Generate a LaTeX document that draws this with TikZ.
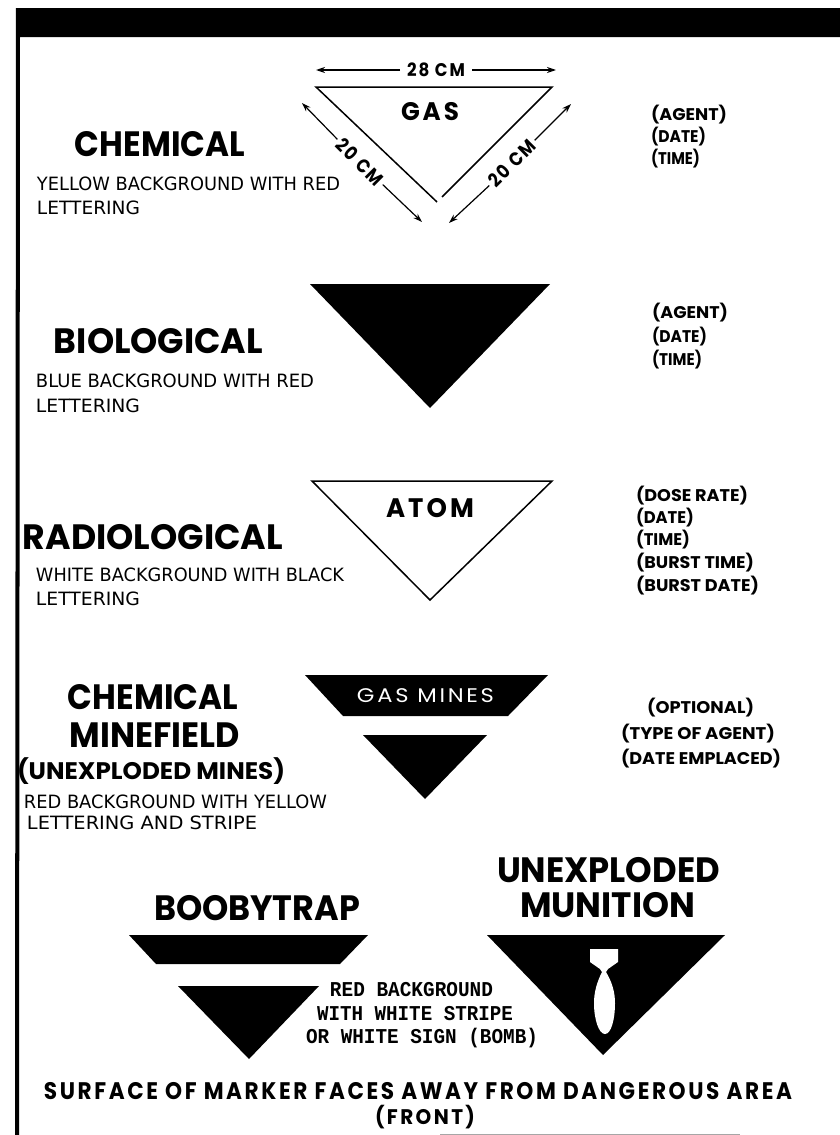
\documentclass[tikz,border=0pt]{standalone}
\usepackage{fontspec}
\usepackage{graphicx}
\usetikzlibrary{arrows.meta}
\newfontfamily\hdfont{Poppins}
\newfontfamily\hdspaced{Poppins}[LetterSpace=12]
\newfontfamily\leroy{DejaVu Sans}
\newfontfamily\narrowmono{Liberation Mono}
\newcommand{\hdb}{\hdfont\bfseries}
\newcommand{\hds}{\hdspaced\bfseries}
\newcommand{\lbl}[8][]{%
  \pgfmathsetmacro{\lblcx}{(#3+#4)/2}%
  \pgfmathsetmacro{\lblw}{#4-#3}%
  \pgfmathsetmacro{\lbly}{#5+#6/2}%
  \pgfmathsetmacro{\lblfs}{#6/0.71}%
  \node[lblstyle,#1] (#2) at (\lblcx,\lbly) {\resizebox{\lblw pt}{\height}{\fontsize{\lblfs pt}{\lblfs pt}\selectfont #7#8}};%
}
\tikzset{
  lblstyle/.style={inner sep=0pt,outer sep=0pt,anchor=base,text=black},
  solidmark/.style={fill=black,draw=none},
  outlinemark/.style={draw=black,line width=1.5pt,fill=none,line join=miter},
  dimarrow/.style={draw=black,line width=1.2pt,-{Stealth[length=9pt,width=6pt]}},
  rotlabel/.style={inner sep=0pt,outer sep=0pt,anchor=center,text=black}
}
\begin{document}
\begin{tikzpicture}[x=1pt,y=-1pt]
\useasboundingbox (0,0) rectangle (840,1135);
\fill[white] (0,0) rectangle (840,1135);
% frame
\fill[black] (16,8) -- (840,8) -- (840,37) -- (20,37) -- (19,1135) -- (15,1135) -- cycle;
\draw[gray!70,line width=1pt] (440,1134) -- (740,1134);
% --- gas
\draw[outlinemark] (437,202) -- (316,87) -- (552,87) -- (442,197);
\lbl{dtop}{407}{465}{70}{13}{\hds}{28 CM}
\coordinate (dtopL) at (316,70);
\coordinate (dtopR) at (556,70);
\draw[dimarrow,shorten <=7pt] (dtop.west |- 0,70) -- (dtopL);
\draw[dimarrow,shorten <=7pt] (dtop.east |- 0,70) -- (dtopR);
\lbl{gas}{401}{459}{111}{18}{\hds}{GAS}
\node[rotlabel,rotate=-45] (dleft) at (360,162) {\resizebox{58pt}{\height}{\fontsize{19pt}{19pt}\selectfont\hds 20 CM}};
\node[rotlabel,rotate=45] (dright) at (512,163) {\resizebox{58pt}{\height}{\fontsize{19pt}{19pt}\selectfont\hds 20 CM}};
\coordinate (dlA) at (302,103);
\coordinate (dlB) at (422,222);
\coordinate (drA) at (571,104);
\coordinate (drB) at (449,223);
\draw[dimarrow,shorten <=3pt] (dleft.west) -- (dlA);
\draw[dimarrow,shorten <=3pt] (dleft.east) -- (dlB);
\draw[dimarrow,shorten <=3pt] (dright.east) -- (drA);
\draw[dimarrow,shorten <=3pt] (dright.west) -- (drB);
\lbl{chem}{75}{245}{144}{25}{\hdb}{CHEMICAL}
\lbl{chemA}{37}{340}{184}{13}{\leroy}{YELLOW BACKGROUND WITH RED}
\lbl{chemB}{37}{140}{208}{13}{\leroy}{LETTERING}
\lbl{a1}{651}{727}{114}{12}{\hdb}{(AGENT)}
\lbl{a2}{651}{706}{136}{12}{\hdb}{(DATE)}
\lbl{a3}{651}{700}{158}{12}{\hdb}{(TIME)}
% --- biological
\fill[solidmark] (310,284) -- (550,284) -- (430,408) -- cycle;
\lbl{bio}{54}{263}{341}{25}{\hdb}{BIOLOGICAL}
\lbl{bioA}{36}{314}{381}{13}{\leroy}{BLUE BACKGROUND WITH RED}
\lbl{bioB}{36}{140}{406}{13}{\leroy}{LETTERING}
\lbl{b1}{652}{728}{312}{12}{\hdb}{(AGENT)}
\lbl{b2}{652}{707}{336}{12}{\hdb}{(DATE)}
\lbl{b3}{652}{702}{359}{12}{\hdb}{(TIME)}
% --- radiological
\draw[outlinemark] (312,481) -- (552,481) -- (430,600) -- cycle;
\lbl{atom}{386}{474}{508}{19}{\hds}{ATOM}
\lbl{rad}{23}{283}{537}{25}{\hdb}{RADIOLOGICAL}
\lbl{radA}{36}{344}{575}{13}{\leroy}{WHITE BACKGROUND WITH BLACK}
\lbl{radB}{36}{140}{599}{13}{\leroy}{LETTERING}
\lbl{c1}{636}{748}{495}{12}{\hdb}{(DOSE RATE)}
\lbl{c2}{636}{694}{517}{12}{\hdb}{(DATE)}
\lbl{c3}{636}{690}{539}{12}{\hdb}{(TIME)}
\lbl{c4}{636}{754}{562}{12}{\hdb}{(BURST TIME)}
\lbl{c5}{636}{759}{585}{12}{\hdb}{(BURST DATE)}
% --- chemical minefield
\fill[solidmark] (305,675) -- (548,675) -- (508,716) -- (343,716) -- cycle;
\fill[solidmark] (363,735) -- (487,735) -- (425,799) -- cycle;
\lbl[text=white]{mines}{357}{494}{695}{14}{\hdspaced}{GAS MINES}
\lbl{mfA}{68}{238}{697}{25}{\hdb}{CHEMICAL}
\lbl{mfB}{70}{240}{735}{25}{\hdb}{MINEFIELD}
\lbl{mfC}{17}{285}{771}{17}{\hdb}{(UNEXPLODED MINES)}
\lbl{mfD}{24}{327}{802}{13}{\leroy}{RED BACKGROUND WITH YELLOW}
\lbl{mfE}{27}{257}{823}{13}{\leroy}{LETTERING AND STRIPE}
\lbl{d1}{647}{754}{707}{12}{\hdb}{(OPTIONAL)}
\lbl{d2}{621}{775}{733}{12}{\hdb}{(TYPE OF AGENT)}
\lbl{d3}{621}{781}{758}{12}{\hdb}{(DATE EMPLACED)}
% --- boobytrap
\lbl{boob}{154}{360}{908}{25}{\hdb}{BOOBYTRAP}
\fill[solidmark] (129,935) -- (368,935) -- (340,964) -- (156,964) -- cycle;
\fill[solidmark] (178,986) -- (319,986) -- (249,1059) -- cycle;
\lbl{redA}{330}{493}{989}{15}{\narrowmono\bfseries}{RED BACKGROUND}
\lbl{redB}{317}{513}{1013}{15}{\narrowmono\bfseries}{WITH WHITE STRIPE}
\lbl{redC}{306}{538}{1036}{15}{\narrowmono\bfseries}{OR WHITE SIGN (BOMB)}
% --- munition
\lbl{unx}{497}{720}{870}{25}{\hdb}{UNEXPLODED}
\lbl{mun}{520}{695}{905}{25}{\hdb}{MUNITION}
\fill[solidmark] (487,935) -- (725,935) -- (603,1055) -- cycle;
\fill[white] (590,949) -- (618,949) -- (618,962) -- (608,969) -- (606,972)
  .. controls (612,982) and (615,992) .. (615,1003)
  .. controls (615,1020) and (611,1034) .. (605,1034)
  .. controls (599,1034) and (594,1020) .. (594,1003)
  .. controls (594,992) and (597,982) .. (602,972)
  -- (600,969) -- (590,962) -- cycle;
% --- footer
\lbl{foot}{44}{792}{1090.5}{17}{\hds}{SURFACE OF MARKER FACES AWAY FROM DANGEROUS AREA}
\lbl{front}{375}{475}{1117}{15}{\hds}{(FRONT)}
\end{tikzpicture}
\end{document}
